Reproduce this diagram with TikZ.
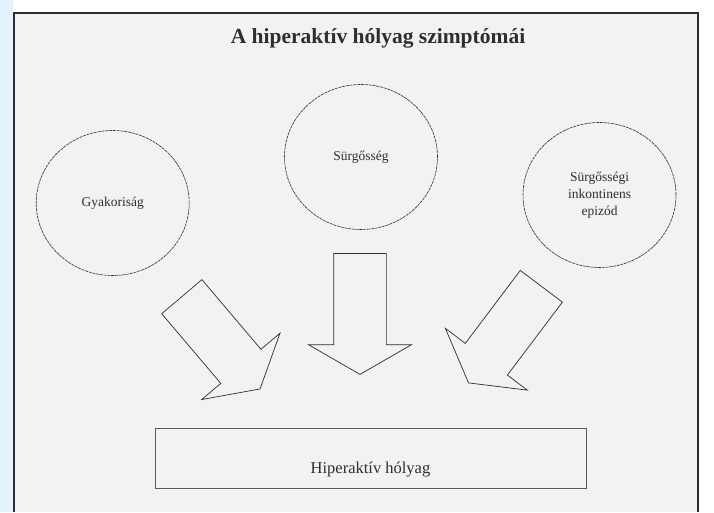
\documentclass[tikz,border=0pt]{standalone}
\usepackage{fontspec}
\setmainfont{Liberation Serif}
\usetikzlibrary{shapes,shapes.geometric,shapes.arrows}
\definecolor{paper}{HTML}{F2F2F2}
\definecolor{margin}{HTML}{E4F2FB}
\definecolor{ink}{HTML}{2E2E2E}
\tikzstyle{symptom}=[draw=ink, ellipse, dash pattern=on 3pt off 0.8pt,
  line width=0.6pt, minimum width=153pt, minimum height=145pt,
  inner sep=0pt, text centered, align=center, text=ink,
  font=\fontsize{13.5}{17}\selectfont]
\tikzstyle{bigarrow}=[draw=ink, single arrow, line width=0.7pt,
  minimum height=121pt, inner sep=0pt, inner ysep=26pt,
  single arrow head extend=25pt, single arrow tip angle=120]
\tikzstyle{result}=[draw=ink!80, line width=0.8pt, inner sep=0pt,
  minimum width=431pt, text height=45pt, text depth=15.5pt, text=ink,
  font=\fontsize{16.5}{20}\selectfont]

\begin{document}
\begin{tikzpicture}[x=1pt,y=-1pt]
  \useasboundingbox (0,0) rectangle (714,512);
  \fill[margin] (0,0) rectangle (13,512);
  \fill[paper] (14,12.5) rectangle (697.5,512);
  \draw[ink, line width=2pt] (14,512) -- (14,12.5) -- (697.5,12.5) -- (697.5,512);

  \node(title)[anchor=base, text=ink, font=\bfseries\fontsize{21.5}{26}\selectfont]
    at (378,43) {A hiperaktív hólyag szimptómái};

  \node(urgency)[symptom] at (361,157) {Sürgősség};

  \path(urgency.center)+(-248.3,46) node(frequency)[symptom]{Gyakoriság};

  \path(urgency.center)+(238.5,38) node(incontinence)[symptom]{
    Sürgősségi\\
    inkontinens\\
    epizód
  };

  \path(urgency.south)+(-1,76.5) node(arrowmid)[bigarrow,rotate=-90]{};

  \path(frequency.center)+(103.3,134) node(arrowleft)[bigarrow,rotate=-49.7]{};

  \path(incontinence.center)+(-90,133.5) node(arrowright)[bigarrow,rotate=-127]{};

  \path(urgency.south)+(9.5,228.75) node(bladder)[result]{Hiperaktív hólyag};
\end{tikzpicture}
\end{document}
